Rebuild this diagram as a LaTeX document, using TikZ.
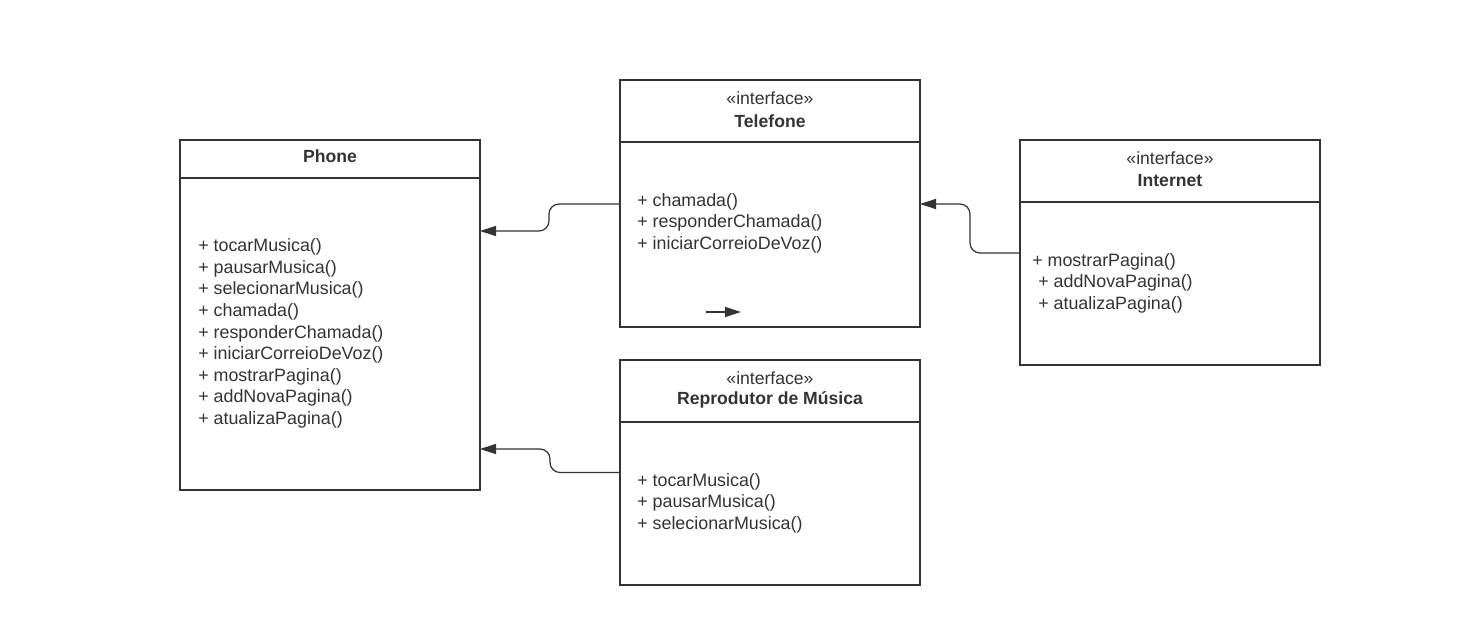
\documentclass[tikz,border=0pt]{standalone}
\usepackage{fontspec}
\setmainfont{Liberation Sans}
\usetikzlibrary{arrows.meta}
\definecolor{ink}{HTML}{333333}
\begin{document}
\begin{tikzpicture}[x=0.75pt,y=-0.75pt,
  box/.style={draw=ink, line width=1.5pt, minimum width=225pt, inner sep=0pt, outer sep=0pt},
  hline/.style={draw=ink, line width=1.5pt},
  conn/.style={draw=ink, line width=0.9pt, rounded corners=7.5pt, -{Triangle[length=12pt,width=7.5pt]}},
  ttl/.style={font=\fontsize{13.2pt}{16pt}\selectfont\bfseries, text=ink, inner sep=0pt},
  ster/.style={font=\fontsize{13.2pt}{16pt}\selectfont, text=ink, inner sep=0pt},
  meth/.style={font=\fontsize{13.4pt}{16.2pt}\selectfont, text=ink, align=left, anchor=west, inner sep=0pt}]
\useasboundingbox (0,0) rectangle (1461,642);
\fill[white] (0,0) rectangle (1461,642);

% Phone
\node[box, minimum height=262.5pt] (phone) at (330,315) {};
\draw[hline] (180,178) -- (480,178);
\node[ttl] (phoneT) at (330,156) {Phone};
\node[meth] (phoneM) at (198,333.5) {+ tocarMusica()\\+ pausarMusica()\\+ selecionarMusica()\\+ chamada()\\+ responderChamada()\\+ iniciarCorreioDeVoz()\\+ mostrarPagina()\\+ addNovaPagina()\\+ atualizaPagina()};

% Telefone
\node[box, minimum height=185.25pt] (tel) at (770,203.5) {};
\draw[hline] (620,142) -- (920,142);
\node[ster] (telS) at (770,98) {«interface»};
\node[ttl] (telT) at (770,121) {Telefone};
\node[meth] (telM) at (637,223) {+ chamada()\\+ responderChamada()\\+ iniciarCorreioDeVoz()};

% Internet
\node[box, minimum height=168.75pt] (int) at (1170,252.5) {};
\draw[hline] (1020,202) -- (1320,202);
\node[ster] (intS) at (1170,158) {«interface»};
\node[ttl] (intT) at (1170,181) {Internet};
\node[meth] (intM) at (1032,283) {+ mostrarPagina()\\\hspace*{4.5pt}+ addNovaPagina()\\\hspace*{4.5pt}+ atualizaPagina()};

% Reprodutor
\node[box, minimum height=168.75pt] (rep) at (770,472.5) {};
\draw[hline] (620,422) -- (920,422);
\node[ster] (repS) at (770,378) {«interface»};
\node[ttl] (repT) at (770,400) {Reprodutor de Música};
\node[meth] (repM) at (637,503) {+ tocarMusica()\\+ pausarMusica()\\+ selecionarMusica()};

% connectors
\draw[conn] (tel.west |- 0,204) -- (549,204) -- (549,231) -- (phone.east |- 0,231);
\draw[conn] (rep.west) -- (550,472.5) -- (550,449) -- (phone.east |- 0,449);
\draw[conn] (int.west |- 0,253) -- (970,253) -- (970,204) -- (tel.east |- 0,204);
\coordinate (sa) at (706,312);
\coordinate (sb) at (741,312);
\draw[conn] (sa) -- (sb);
\end{tikzpicture}
\end{document}
